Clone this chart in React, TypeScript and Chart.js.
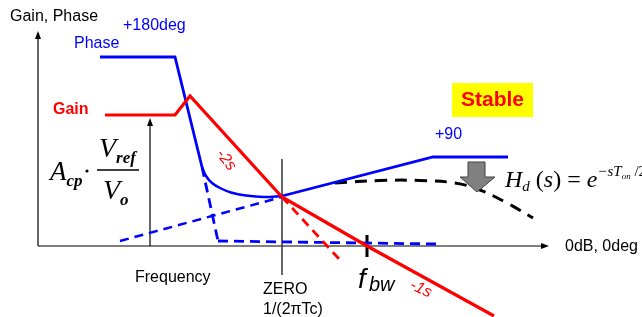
import React, { useEffect, useRef } from 'react';
import { Chart, registerables } from 'chart.js';
Chart.register(...registerables);

// Data units: x = log-frequency position, y = gain / phase level (0 = 0dB, 0deg)
const yAxis = [[0, 0], [0, 21.2]];
const xAxis = [[0, 0], [50.8, 0]];
const refArrow = [[11.2, 0], [11.2, 12.5]];
const gain = [[6.7, 13.1], [13.7, 13.1], [15.2, 15.0], [24.4, 4.9], [32.9, 0], [45.6, -7.0]];
const gainDashed = [[24.4, 4.9], [30.2, -1.4]];
const phaseHigh = [[6.2, 18.9], [13.7, 18.9], [16.4, 7.9]];
const phaseCurve = [[16.4, 7.9], [16.8, 7.0], [17.4, 6.3], [18.2, 5.8], [19.3, 5.35], [20.8, 5.05], [22.6, 4.9], [24.4, 5.0]];
const phaseRise = [[24.4, 5.0], [39.5, 8.9], [47.0, 8.9]];
const phaseDashSteep = [[16.4, 7.9], [18.0, 0.5]];
const phaseDashFlat = [[18.0, 0.5], [39.9, 0.2]];
const phaseDashRise = [[8.2, 0.5], [24.4, 4.9]];
const delayCurve = [[29.7, 6.3], [34.2, 6.55], [38.2, 6.55], [41.7, 6.3], [44.2, 5.6], [46.9, 4.3], [49.5, 2.8]];
const zeroLine = [[24.4, 8.7], [24.4, -2.9]];
const fbwTick = [[32.9, 1.1], [32.9, -1.1]];

const BLUE = '#0000ff';
const RED = '#ff0000';
const SANS = '"Liberation Sans", Arial, sans-serif';
const SERIF = '"Liberation Serif", "Times New Roman", serif';

const pts = (a: number[][]) => a.map(([x, y]) => ({ x, y }));

const ds = (data: number[][], color: string, width: number, dash: number[] = [], tension = 0) => ({
  data: pts(data),
  showLine: true,
  borderColor: color,
  backgroundColor: color,
  borderWidth: width,
  borderDash: dash,
  pointRadius: 0,
  tension,
  fill: false,
});

const drawPlugin = {
  id: 'diagram',
  afterDatasetsDraw(chart: any) {
    const ctx = chart.ctx as CanvasRenderingContext2D;
    const X = (v: number) => chart.scales.x.getPixelForValue(v);
    const Y = (v: number) => chart.scales.y.getPixelForValue(v);
    ctx.save();

    const tri = (p: number[][], color: string) => {
      ctx.beginPath();
      ctx.moveTo(p[0][0], p[0][1]);
      ctx.lineTo(p[1][0], p[1][1]);
      ctx.lineTo(p[2][0], p[2][1]);
      ctx.closePath();
      ctx.fillStyle = color;
      ctx.fill();
    };
    const up = (x: number, y: number) => {
      const px = X(x), py = Y(y);
      tri([[px, py - 3], [px - 3, py + 5], [px + 3, py + 5]], '#000');
    };
    up(yAxis[1][0], yAxis[1][1]);
    up(refArrow[1][0], refArrow[1][1]);
    {
      const px = X(xAxis[1][0]), py = Y(xAxis[1][1]);
      tri([[px + 3, py], [px - 5, py - 3], [px - 5, py + 3]], '#000');
    }

    // Stable box
    ctx.fillStyle = '#ffff00';
    ctx.fillRect(X(41.4), Y(16.3), X(49.5) - X(41.4), Y(12.9) - Y(16.3));

    // gray arrow
    ctx.beginPath();
    ctx.moveTo(X(43.0), Y(8.4));
    ctx.lineTo(X(44.7), Y(8.4));
    ctx.lineTo(X(44.7), Y(6.9));
    ctx.lineTo(X(45.7), Y(6.9));
    ctx.lineTo(X(43.9), Y(5.4));
    ctx.lineTo(X(42.2), Y(6.9));
    ctx.lineTo(X(43.0), Y(6.9));
    ctx.closePath();
    ctx.fillStyle = '#808080';
    ctx.fill();
    ctx.strokeStyle = '#404040';
    ctx.lineWidth = 1;
    ctx.stroke();

    const txt = (t: string, x: number, y: number, font: string, color: string, align: CanvasTextAlign = 'left', base: CanvasTextBaseline = 'middle', rot = 0) => {
      ctx.save();
      ctx.font = font;
      ctx.fillStyle = color;
      ctx.textAlign = align;
      ctx.textBaseline = base;
      ctx.translate(X(x), Y(y));
      if (rot) ctx.rotate((rot * Math.PI) / 180);
      ctx.fillText(t, 0, 0);
      ctx.restore();
    };

    txt('Gain, Phase', -2.8, 22.9, `16px ${SANS}`, '#000');
    txt('+180deg', 8.5, 22.0, `16px ${SANS}`, BLUE);
    txt('Phase', 3.6, 20.2, `16px ${SANS}`, BLUE);
    txt('Gain', 1.5, 13.6, `bold 16px ${SANS}`, RED);
    txt('Frequency', 9.7, -3.2, `16px ${SANS}`, '#000');
    txt('ZERO', 22.5, -4.4, `16px ${SANS}`, '#000');
    txt('1/(2\u03C0Tc)', 22.5, -6.4, `16px ${SANS}`, '#000');
    txt('-2s', 18.8, 8.6, `italic 16px ${SANS}`, RED, 'center', 'middle', 52);
    txt('-1s', 38.3, -4.3, `italic 16px ${SANS}`, RED, 'center', 'middle', 26);
    txt('Stable', 45.45, 14.55, `bold 21px ${SANS}`, RED, 'center', 'middle');
    txt('+90', 39.7, 11.1, `16px ${SANS}`, BLUE);
    txt('0dB, 0deg', 52.7, -0.1, `16px ${SANS}`, '#000');

    // f_bw
    txt('f', 32.0, -4.2, `italic 28px ${SANS}`, '#000', 'left', 'alphabetic');
    txt('bw', 33.1, -4.5, `italic 20px ${SANS}`, '#000', 'left', 'alphabetic');

    const seq = (parts: [string, string, number][], x: number, y: number) => {
      let px = X(x);
      const py = Y(y);
      ctx.fillStyle = '#000';
      ctx.textAlign = 'left';
      ctx.textBaseline = 'alphabetic';
      for (const [t, f, dy] of parts) {
        ctx.font = f;
        ctx.fillText(t, px, py + dy);
        px += ctx.measureText(t).width;
      }
    };
    // A_cp * Vref / Vo
    seq([['A', `italic 27px ${SERIF}`, 0], ['cp', `italic bold 17px ${SERIF}`, 6]], 1.2, 6.6);
    ctx.beginPath();
    ctx.arc(X(4.9), Y(7.5), 1.6, 0, Math.PI * 2);
    ctx.fillStyle = '#000';
    ctx.fill();
    ctx.beginPath();
    ctx.moveTo(X(5.9), Y(7.6));
    ctx.lineTo(X(10.1), Y(7.6));
    ctx.strokeStyle = '#000';
    ctx.lineWidth = 1.5;
    ctx.stroke();
    seq([['V', `italic 28px ${SERIF}`, 0], ['ref', `italic bold 17px ${SERIF}`, 6]], 6.1, 8.9);
    seq([['V', `italic 28px ${SERIF}`, 0], ['o', `italic bold 17px ${SERIF}`, 6]], 6.5, 4.7);

    // H_d(s) = e^{-sTon/2}
    seq([
      ['H', `italic 24px ${SERIF}`, 0],
      ['d', `italic 15px ${SERIF}`, 4],
      [' (', `24px ${SERIF}`, 0],
      ['s', `italic 24px ${SERIF}`, 0],
      [') = ', `24px ${SERIF}`, 0],
      ['e', `italic 24px ${SERIF}`, 0],
      ['\u2212sT', `italic 15px ${SERIF}`, -11],
      ['on', `italic 9px ${SERIF}`, -8],
      [' /2', `15px ${SERIF}`, -11],
    ], 46.7, 5.9);

    ctx.restore();
  },
};

export default function App() {
  const ref = useRef<HTMLCanvasElement>(null);
  useEffect(() => {
    document.body.style.margin = '0';
    const chart = new Chart(ref.current!, {
      type: 'scatter',
      data: {
        datasets: [
          ds(gain, RED, 3.2),
          ds(gainDashed, RED, 2.8, [9, 6]),
          ds(phaseHigh, BLUE, 2.8),
          ds(phaseCurve, BLUE, 2.5, [], 0.35),
          ds(phaseRise, BLUE, 2.8),
          ds(phaseDashSteep, BLUE, 2.8, [10, 6]),
          ds(phaseDashFlat, BLUE, 2.8, [10, 6]),
          ds(phaseDashRise, BLUE, 2.5, [9, 6]),
          ds(delayCurve, '#000', 3, [12, 8], 0.4),
          ds(zeroLine, '#333', 1.5),
          ds(fbwTick, '#000', 3),
          ds(yAxis, '#000', 1.2),
          ds(xAxis, '#000', 1.2),
          ds(refArrow, '#000', 1.2),
        ] as any,
      },
      options: {
        animation: false,
        responsive: false,
        maintainAspectRatio: false,
        layout: { padding: 0 },
        plugins: { legend: { display: false }, tooltip: { enabled: false } },
        scales: {
          x: { type: 'linear', min: -3.8, max: 60.4, display: false },
          y: { type: 'linear', min: -7.1, max: 24.6, display: false },
        },
      },
      plugins: [drawPlugin],
    });
    return () => chart.destroy();
  }, []);
  return (
    <div style={{ width: 642, height: 317, background: '#fff' }}>
      <canvas ref={ref} width={642} height={317} style={{ display: 'block' }} />
    </div>
  );
}
